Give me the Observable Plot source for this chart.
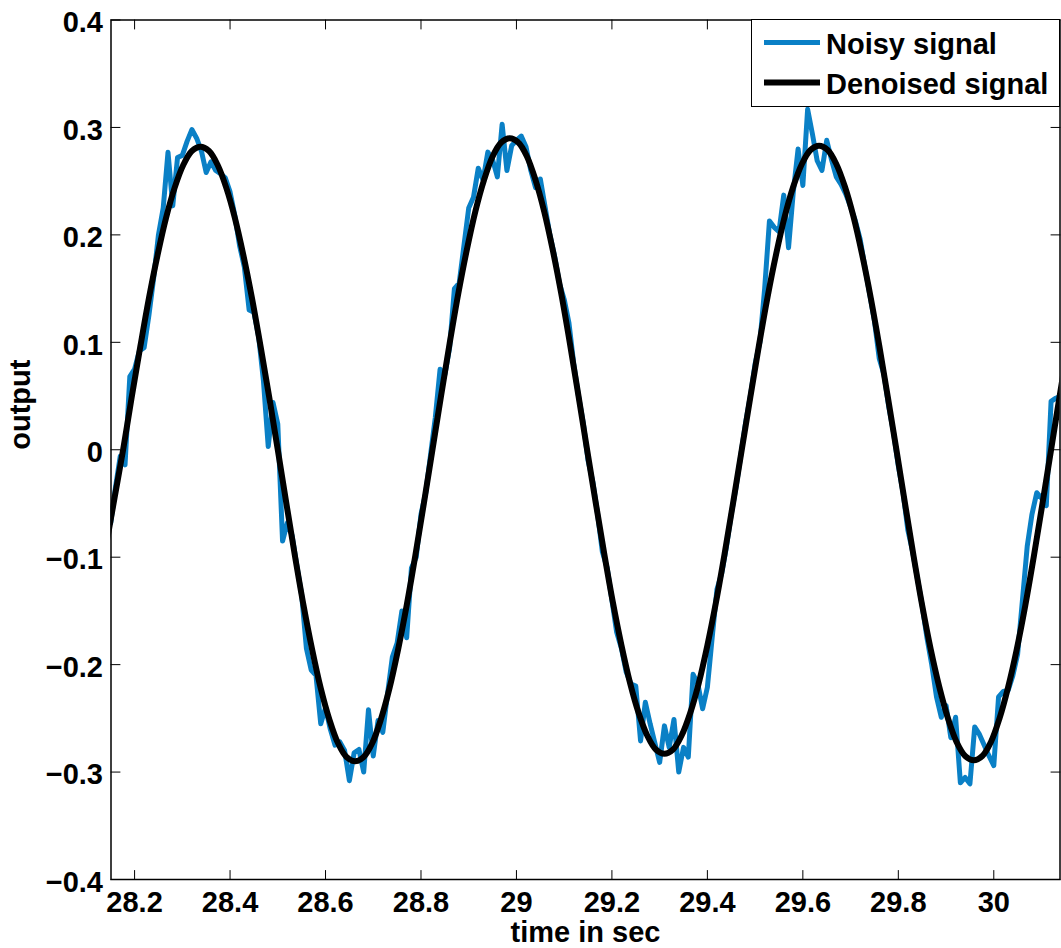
<!DOCTYPE html>
<html>
<head>
<meta charset="utf-8">
<script src="https://cdn.jsdelivr.net/npm/d3@7"></script>
<script src="https://cdn.jsdelivr.net/npm/@observablehq/plot@0.6"></script>
<style>
  body { margin: 0; background: #fff; }
  #chart { position: relative; width: 1061px; height: 948px; }
  #legend {
    position: absolute; left: 751px; top: 19px; width: 309px; height: 88px;
    box-sizing: border-box; border: 1.5px solid #000; background: #fff;
  }
  #legend svg { display: block; }
</style>
</head>
<body>
<div id="chart"></div>
<script>
// Sampled signals (time in seconds, output value)
const noisyStart = 28.15;
const noisyStep = 0.01;
const noisyValues = [
  -0.068, -0.035, -0.006, -0.014, 0.068, 0.075, 0.092, 0.095, 0.125, 0.16,
  0.2, 0.225, 0.277, 0.227, 0.272, 0.274, 0.287, 0.298, 0.29, 0.278,
  0.258, 0.268, 0.26, 0.257, 0.253, 0.24, 0.218, 0.19, 0.17, 0.13,
  0.128, 0.105, 0.064, 0.003, 0.044, 0.024, -0.085, -0.068, -0.08, -0.108,
  -0.135, -0.185, -0.205, -0.21, -0.255, -0.24, -0.26, -0.275, -0.272, -0.28,
  -0.308, -0.282, -0.279, -0.3, -0.242, -0.285, -0.252, -0.263, -0.227, -0.193,
  -0.18, -0.15, -0.175, -0.11, -0.1, -0.06, -0.04, -0.005, 0.03, 0.075,
  0.07, 0.095, 0.15, 0.155, 0.19, 0.225, 0.235, 0.262, 0.251, 0.277,
  0.27, 0.254, 0.303, 0.26, 0.283, 0.288, 0.292, 0.282, 0.26, 0.244,
  0.252, 0.226, 0.2, 0.18, 0.155, 0.14, 0.118, 0.08, 0.05, 0.025,
  -0.01, -0.03, -0.06, -0.095, -0.11, -0.14, -0.17, -0.185, -0.207, -0.218,
  -0.22, -0.271, -0.235, -0.255, -0.273, -0.291, -0.257, -0.277, -0.251, -0.3,
  -0.277, -0.286, -0.209, -0.218, -0.241, -0.221, -0.175, -0.13, -0.115, -0.09,
  -0.06, -0.035, -0.005, 0.025, 0.05, 0.08, 0.1, 0.15, 0.213, 0.207,
  0.203, 0.237, 0.188, 0.24, 0.28, 0.246, 0.317, 0.294, 0.269, 0.26,
  0.288, 0.27, 0.254, 0.247, 0.238, 0.226, 0.213, 0.196, 0.17, 0.145,
  0.12, 0.085, 0.07, 0.04, 0.016, -0.015, -0.04, -0.075, -0.095, -0.12,
  -0.145, -0.175, -0.2, -0.23, -0.249, -0.238, -0.268, -0.249, -0.31, -0.305,
  -0.311, -0.258, -0.265, -0.275, -0.285, -0.294, -0.23, -0.225, -0.224, -0.21,
  -0.19, -0.14, -0.09, -0.06, -0.04, -0.045, -0.052, 0.045, 0.048, 0.05
];

const denoisedStart = 28.140;
const denoisedStep = 0.018;
const denoisedValues = [
  -0.09, -0.045,
  0, 0.049, 0.096, 0.141, 0.181, 0.216, 0.244, 0.265, 0.278, 0.282, 0.278, 0.265, 0.244, 0.216, 0.181, 0.141, 0.096, 0.049, 0,
  -0.050, -0.099, -0.145, -0.186, -0.222, -0.251, -0.273, -0.286, -0.290, -0.286, -0.273, -0.251, -0.222, -0.186, -0.145, -0.099, -0.050,
  0,
  0.050, 0.099, 0.145, 0.186, 0.222, 0.251, 0.273, 0.286, 0.290, 0.286, 0.273, 0.251, 0.222, 0.186, 0.145, 0.099, 0.050,
  0,
  -0.049, -0.097, -0.142, -0.182, -0.217, -0.245, -0.266, -0.279, -0.283, -0.279, -0.266, -0.245, -0.217, -0.182, -0.142, -0.097, -0.049,
  0,
  0.049, 0.097, 0.142, 0.182, 0.217, 0.245, 0.266, 0.279, 0.283, 0.279, 0.266, 0.245, 0.217, 0.182, 0.142, 0.097, 0.049,
  0,
  -0.050, -0.099, -0.145, -0.186, -0.221, -0.250, -0.272, -0.285, -0.289, -0.285, -0.272, -0.250, -0.221, -0.186, -0.145, -0.099, -0.050,
  0, 0.050, 0.099
];

// Axes
const xDomain = [28.1506, 30.1387];
const yDomain = [-0.4, 0.4];
const xTicks = [28.2, 28.4, 28.6, 28.8, 29, 29.2, 29.4, 29.6, 29.8, 30];
const xTickLabels = ["28.2", "28.4", "28.6", "28.8", "29", "29.2", "29.4", "29.6", "29.8", "30"];
const yTicks = [-0.4, -0.3, -0.2, -0.1, 0, 0.1, 0.2, 0.3, 0.4];
const yTickLabels = ["\u22120.4", "\u22120.3", "\u22120.2", "\u22120.1", "0", "0.1", "0.2", "0.3", "0.4"];
const xTitle = "time in sec";
const yTitle = "output";

// Legend entries
const seriesNames = ["Noisy signal", "Denoised signal"];
const seriesColors = ["#0a80c6", "#000000"];
const seriesWidths = [5, 6];

const FONT = '"Liberation Sans", Arial, Helvetica, sans-serif';

const noisy = noisyValues.map((v, i) => ({t: noisyStart + i * noisyStep, v}));
const denoised = denoisedValues.map((v, i) => ({t: denoisedStart + i * denoisedStep, v}));

// Inward-pointing tick stroke used on all four sides of the box
const tickShape = {draw(ctx, l) { ctx.moveTo(0, 0); ctx.lineTo(0, -l); }};
const tickOpts = {length: 9, anchor: "start", shape: tickShape, stroke: "#000", strokeWidth: 1};

const plot = Plot.plot({
  width: 1061,
  height: 948,
  marginLeft: 110.5,
  marginRight: 1.5,
  marginTop: 19.5,
  marginBottom: 69,
  style: {fontFamily: FONT, fontSize: "29px", fontWeight: "bold", background: "#fff", color: "#000"},
  x: {domain: xDomain},
  y: {domain: yDomain},
  marks: [
    Plot.line(noisy, {x: "t", y: "v", stroke: seriesColors[0], strokeWidth: seriesWidths[0],
      strokeLinejoin: "round", strokeLinecap: "round", clip: true}),
    Plot.line(denoised, {x: "t", y: "v", stroke: seriesColors[1], strokeWidth: seriesWidths[1],
      curve: "catmull-rom", clip: true}),
    Plot.frame({stroke: "#000", strokeWidth: 1.5}),
    Plot.vector(xTicks, {x: d => d, y: yDomain[0], rotate: 0, ...tickOpts}),
    Plot.vector(xTicks, {x: d => d, y: yDomain[1], rotate: 180, ...tickOpts}),
    Plot.vector(yTicks, {x: xDomain[0], y: d => d, rotate: 90, ...tickOpts}),
    Plot.vector(yTicks, {x: xDomain[1], y: d => d, rotate: 270, ...tickOpts}),
    Plot.axisX(xTicks, {anchor: "bottom", tickSize: 0, tickPadding: 12,
      tickFormat: d => xTickLabels[xTicks.indexOf(d)], label: null}),
    Plot.axisY(yTicks, {anchor: "left", tickSize: 0, tickPadding: 8, dy: 3,
      tickFormat: d => yTickLabels[yTicks.indexOf(d)], label: null}),
    Plot.text([xTitle], {text: d => d, frameAnchor: "bottom", dy: 53.5, lineAnchor: "middle"}),
    Plot.text([yTitle], {text: d => d, frameAnchor: "left", dx: -90, rotate: -90, lineAnchor: "middle"})
  ]
});

const chart = document.getElementById("chart");
chart.appendChild(plot);

// Legend box in the upper right corner of the axes
const legend = d3.select(chart).append("div").attr("id", "legend");
const lsvg = legend.append("svg").attr("width", 306).attr("height", 85)
  .style("font-family", FONT).style("font-size", "29px").style("font-weight", "bold");
const rows = lsvg.selectAll("g").data(seriesNames).join("g")
  .attr("transform", (d, i) => `translate(0,${i * 40})`);
rows.append("line")
  .attr("x1", 12).attr("x2", 68).attr("y1", 22.5).attr("y2", 22.5)
  .attr("stroke", (d, i) => seriesColors[i])
  .attr("stroke-width", (d, i) => seriesWidths[i]);
rows.append("text")
  .attr("x", 74).attr("y", 33.5)
  .attr("fill", "#000")
  .text(d => d);
</script>
</body>
</html>
